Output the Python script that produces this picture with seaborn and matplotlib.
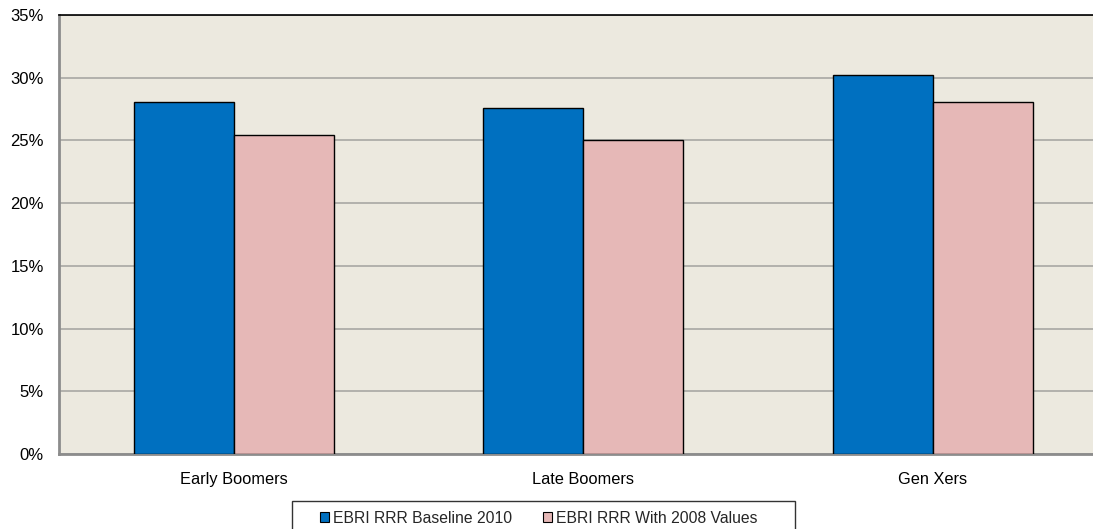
import matplotlib
matplotlib.use("Agg")
import matplotlib.pyplot as plt
import seaborn as sns
import pandas as pd
from matplotlib.ticker import FuncFormatter, MultipleLocator
from matplotlib.patches import Patch, Rectangle

# Replacement rates by cohort (percent)
cohorts = ["Early Boomers", "Late Boomers", "Gen Xers"]
baseline_2010 = [28.1, 27.6, 30.2]
with_2008_values = [25.4, 25.0, 28.1]
series_names = ["EBRI RRR Baseline 2010", "EBRI RRR With 2008 Values"]
colors = ["#0070C0", "#E6B8B7"]

df = pd.DataFrame({
    "cohort": cohorts * 2,
    "value": baseline_2010 + with_2008_values,
    "series": [series_names[0]] * 3 + [series_names[1]] * 3,
})

sns.set_theme(style="white")
plt.rcParams["font.family"] = ["Liberation Sans", "DejaVu Sans"]

W, H = 1093, 529
fig = plt.figure(figsize=(W / 100, H / 100), dpi=100)
# plot area runs slightly past the right edge of the canvas
ax = fig.add_axes([59 / W, 1 - 454 / H, 1048.5 / W, (454 - 15) / H])
ax.set_facecolor("#ECE9DF")

sns.barplot(data=df, x="cohort", y="value", hue="series", palette=colors,
            width=0.572, edgecolor="black", linewidth=1.0, saturation=1,
            ax=ax, legend=False, zorder=3)

ax.set_ylim(0, 35)
ax.yaxis.set_major_locator(MultipleLocator(5))
ax.yaxis.set_major_formatter(FuncFormatter(lambda v, p: f"{v:.0f}%"))
ax.grid(axis="y", color="#A8A8A4", linewidth=1.2, zorder=0)
ax.set_axisbelow(True)
ax.set_xlabel("")
ax.set_ylabel("")
ax.tick_params(axis="both", length=0, colors="black")
ax.tick_params(axis="x", pad=13, labelsize=11.8)
ax.tick_params(axis="y", pad=11, labelsize=12)

for side in ["left", "bottom"]:
    ax.spines[side].set_color("#8C8C8C")
    ax.spines[side].set_linewidth(2)
ax.spines["top"].set_color("black")
ax.spines["top"].set_linewidth(1.2)
ax.spines["right"].set_visible(False)

# legend entries without their own frame; a box is drawn around them below
handles = [Patch(facecolor=c, edgecolor="black", linewidth=0.8) for c in colors]
leg = fig.legend(handles, series_names, loc="upper left",
                 bbox_to_anchor=(320 / W, 1 - 511 / H), ncol=2,
                 frameon=False, fontsize=11.3,
                 handlelength=0.6, handleheight=0.6, handletextpad=0.2,
                 columnspacing=2.0, borderpad=0, borderaxespad=0)

fig.patches.append(Rectangle((292 / W, 1 - 545 / H), (795 - 292) / W, 44 / H,
                             transform=fig.transFigure, facecolor="none",
                             edgecolor="#333333", linewidth=1.0))

fig.savefig("out.png", dpi=100)
